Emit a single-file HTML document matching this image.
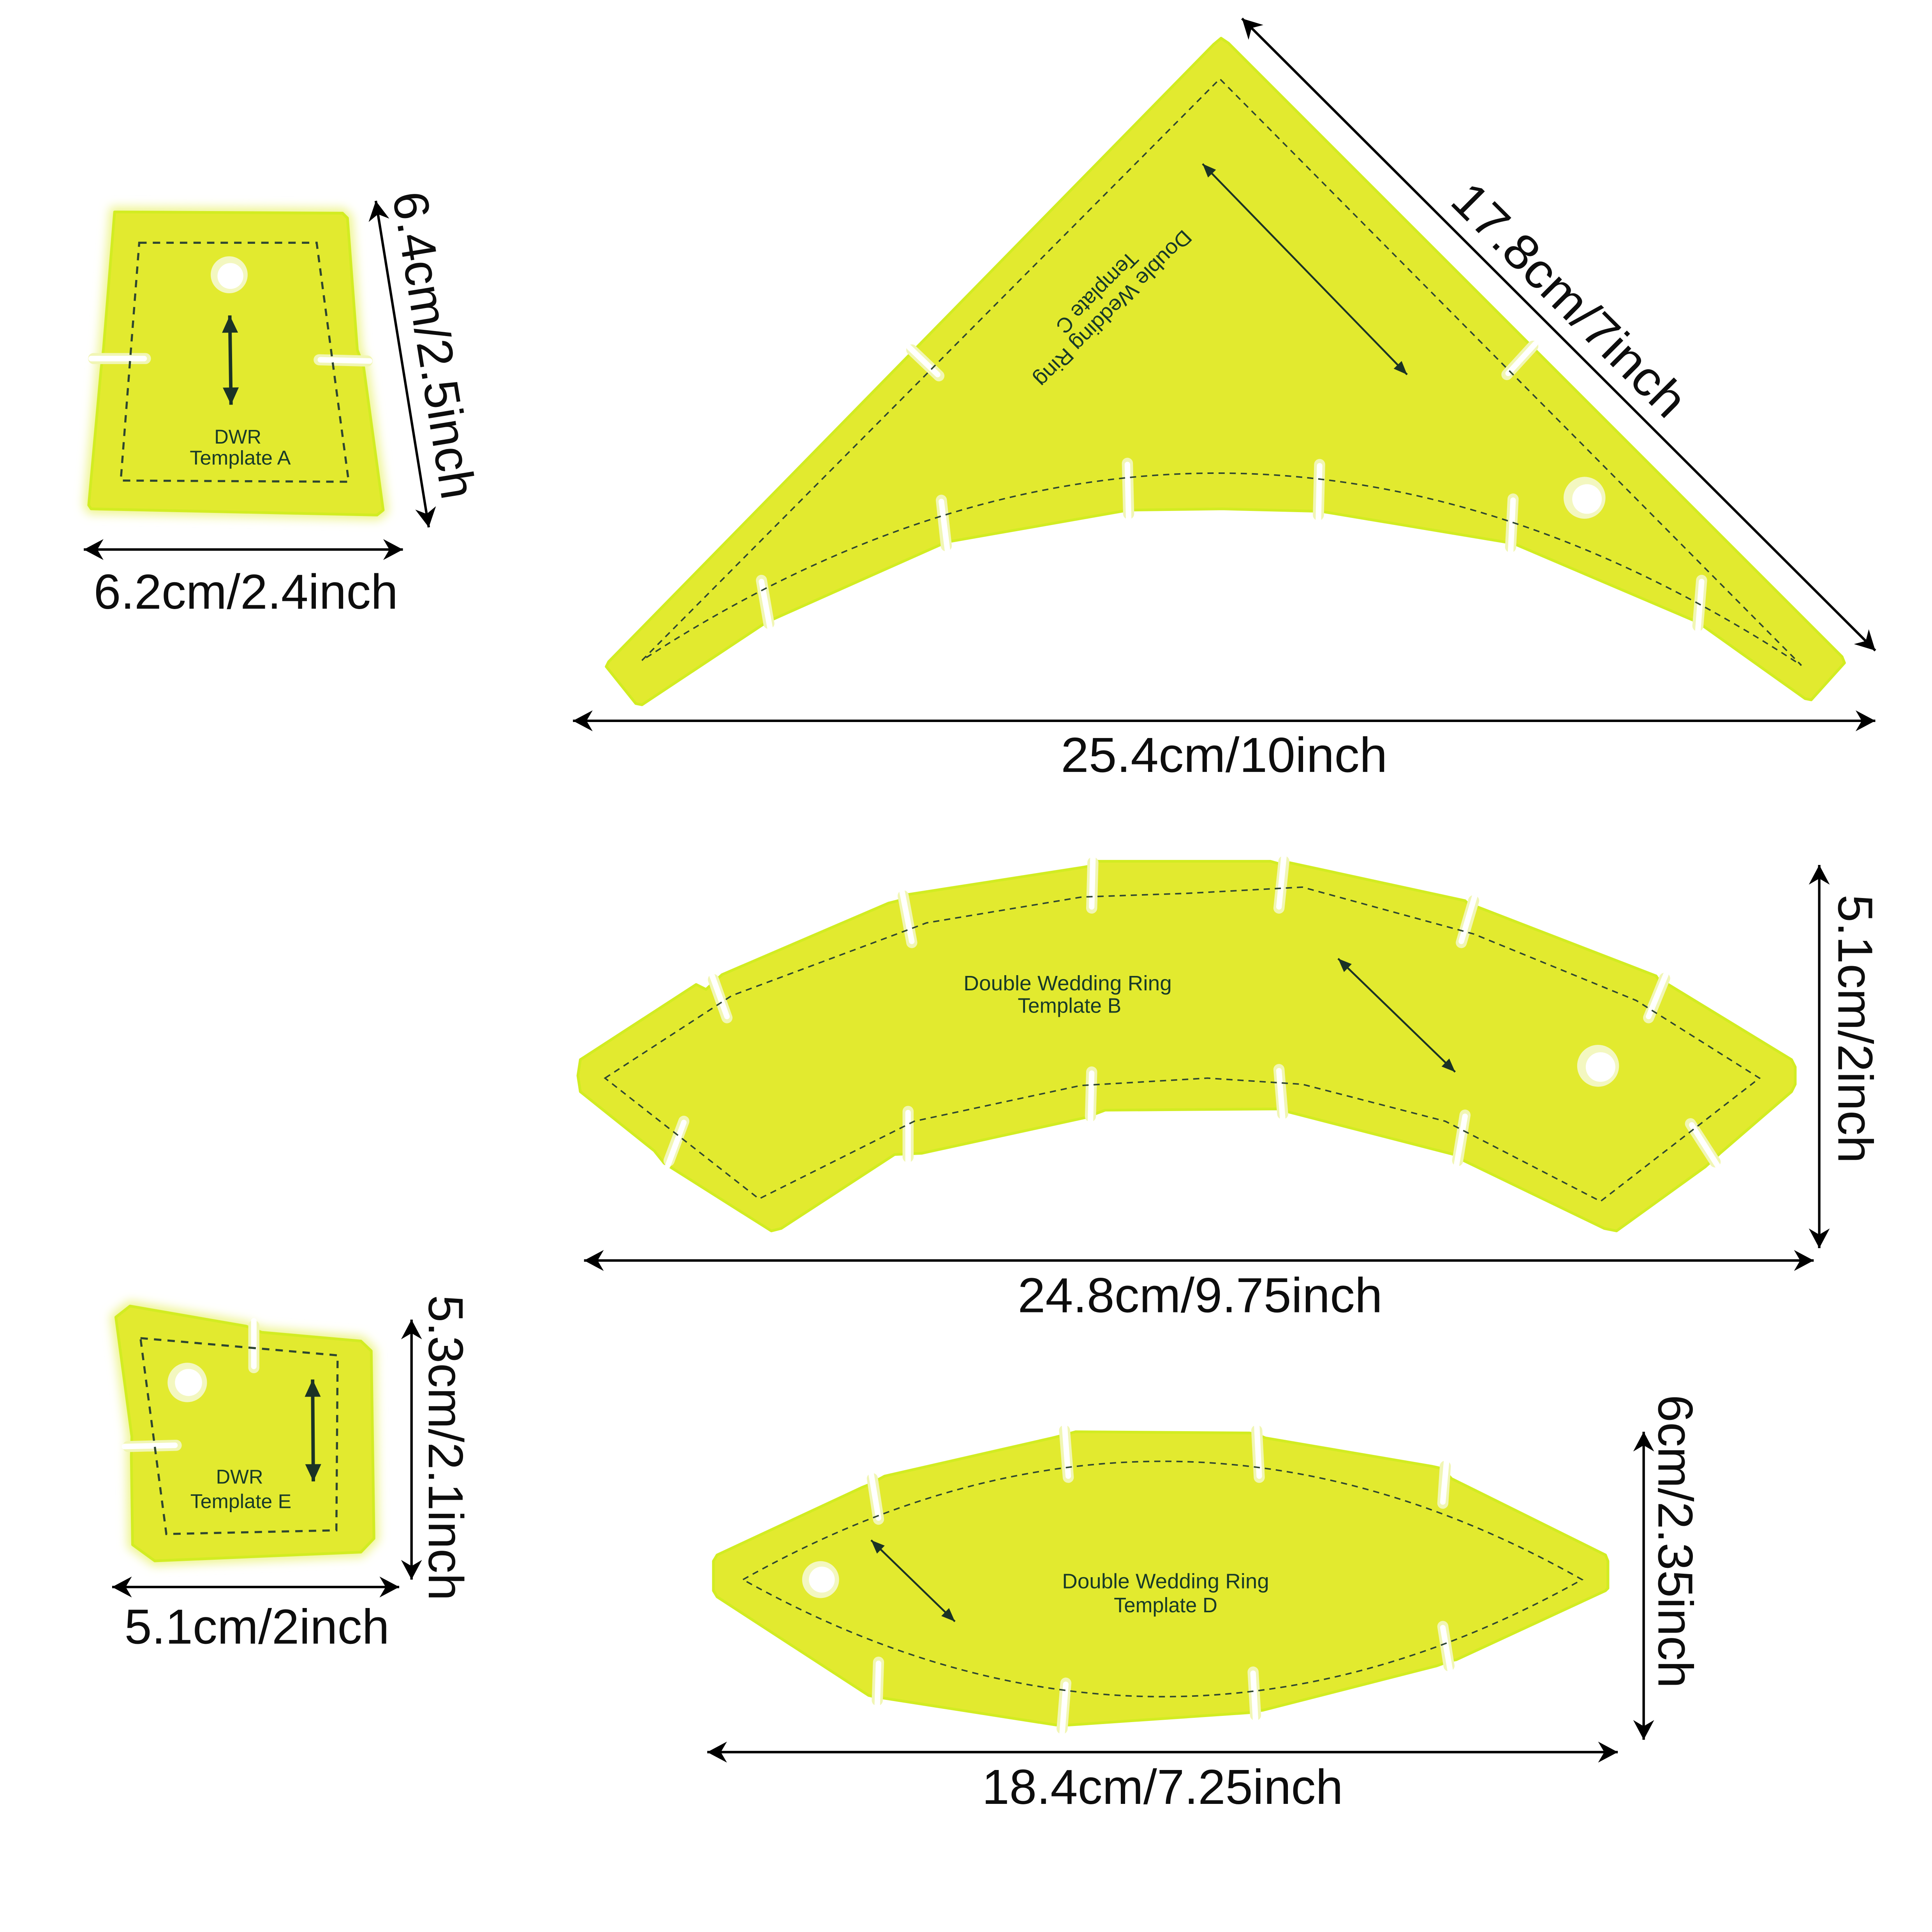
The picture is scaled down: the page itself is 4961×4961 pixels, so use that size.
<!DOCTYPE html>
<html>
<head>
<meta charset="utf-8">
<style>
html,body{margin:0;padding:0;background:#ffffff;}
svg{display:block;}
.dim{font-family:"Liberation Sans",Arial,sans-serif;font-size:40px;fill:#0d0d0d;}
.lbl{font-family:"Liberation Sans",Arial,sans-serif;fill:#183a28;}
.piece{fill:#e2ea2f;stroke:#d2ec22;stroke-width:2.2;stroke-linejoin:round;}
.dash{fill:none;stroke:#2e4630;stroke-width:1.2;stroke-dasharray:5 4;}
.dashT{fill:none;stroke:#2e4630;stroke-width:1.7;stroke-dasharray:6 5;}
.slitR{fill:none;stroke:#f1f6b4;stroke-width:9;stroke-linecap:round;}
.slitW{fill:none;stroke:#ffffff;stroke-width:4.5;stroke-linecap:round;}
.dl{stroke:#000;stroke-width:2;}
.gl{stroke:#1b3325;stroke-width:1.5;}
.glT{stroke:#1b3325;stroke-width:2.8;}
</style>
</head>
<body>
<svg xmlns="http://www.w3.org/2000/svg" width="4961" height="4961" viewBox="0 0 1568 1568">
<defs>
  <marker id="de" viewBox="-17 -9 18 18" refX="0" refY="0" markerWidth="18" markerHeight="18" markerUnits="userSpaceOnUse" orient="auto">
    <path d="M0,0 L-16,-8.5 L-11,0 L-16,8.5 Z" fill="#000"/>
  </marker>
  <marker id="ds" viewBox="-1 -9 18 18" refX="0" refY="0" markerWidth="18" markerHeight="18" markerUnits="userSpaceOnUse" orient="auto">
    <path d="M0,0 L16,-8.5 L11,0 L16,8.5 Z" fill="#000"/>
  </marker>
  <marker id="ge" viewBox="-12 -6 13 12" refX="0" refY="0" markerWidth="13" markerHeight="12" markerUnits="userSpaceOnUse" orient="auto">
    <path d="M0,0 L-11,-4.5 L-11,4.5 Z" fill="#1b3325"/>
  </marker>
  <marker id="gs" viewBox="-1 -6 13 12" refX="0" refY="0" markerWidth="13" markerHeight="12" markerUnits="userSpaceOnUse" orient="auto">
    <path d="M0,0 L11,-4.5 L11,4.5 Z" fill="#1b3325"/>
  </marker>
  <marker id="gte" viewBox="-15 -8 16 16" refX="0" refY="0" markerWidth="16" markerHeight="16" markerUnits="userSpaceOnUse" orient="auto">
    <path d="M0,0 L-14,-6.5 L-14,6.5 Z" fill="#1b3325"/>
  </marker>
  <marker id="gts" viewBox="-1 -8 16 16" refX="0" refY="0" markerWidth="16" markerHeight="16" markerUnits="userSpaceOnUse" orient="auto">
    <path d="M0,0 L14,-6.5 L14,6.5 Z" fill="#1b3325"/>
  </marker>
  <filter id="glow" x="-20%" y="-20%" width="140%" height="140%">
    <feGaussianBlur stdDeviation="4"/>
  </filter>
</defs>

<rect x="0" y="0" width="1568" height="1568" fill="#ffffff"/>

<!-- ================= TEMPLATE A ================= -->
<polygon points="93,172 278,173 282,177 290,284 295,297 311,414 306,418 74,413 72,410 82,300 84,283" fill="#eef48c" stroke="#eef48c" stroke-width="8" filter="url(#glow)"/>
<polygon class="piece" points="93,172 278,173 282,177 290,284 295,297 311,414 306,418 74,413 72,410 82,300 84,283"/>
<path class="slitR" d="M76,291 L118,291"/>
<path class="slitW" d="M74,291 L117,291"/>
<path class="slitR" d="M298,293 L259,292"/>
<path class="slitW" d="M300,293 L260,292"/>
<path class="dashT" d="M113,197 L257,197 L283,391 L98,390 Z"/>
<circle cx="186" cy="223" r="15" fill="#f3f7c0"/>
<circle cx="187" cy="224" r="10.5" fill="#ffffff"/>
<line class="glT" x1="186.5" y1="256" x2="187.5" y2="328.5" marker-start="url(#gts)" marker-end="url(#gte)"/>
<text class="lbl" x="193" y="360" font-size="16" text-anchor="middle">DWR</text>
<text class="lbl" x="154" y="377" font-size="16" textLength="82" lengthAdjust="spacingAndGlyphs">Template A</text>

<line class="dl" x1="68" y1="446" x2="327" y2="446" marker-start="url(#ds)" marker-end="url(#de)"/>
<text class="dim" x="76" y="494" textLength="247" lengthAdjust="spacingAndGlyphs">6.2cm/2.4inch</text>
<line class="dl" x1="305" y1="163" x2="348" y2="428" marker-start="url(#ds)" marker-end="url(#de)"/>
<g transform="translate(338.7,282.3) rotate(80.8)">
  <text class="dim" x="-126" y="0" textLength="252" lengthAdjust="spacingAndGlyphs">6.4cm/2.5inch</text>
</g>

<!-- ================= TEMPLATE C ================= -->
<path class="piece" d="M985,36 L991,31 L997,35 L1495,533 L1497,538 L1470,568 L1465,567 L1378,505 L1228,441 L1072,415 L992,413 L916,414 L768,440 L622,505 L521,572 L516,571 L492,541 L494,537 Z"/>
<!-- slits C -->
<path class="slitR" d="M740,284 L762,305"/><path class="slitW" d="M738,282 L761,304"/>
<path class="slitR" d="M1244,281 L1223,304"/><path class="slitW" d="M1246,279 L1224,303"/>
<path class="slitR" d="M624,506 L618,471"/><path class="slitW" d="M625,510 L618,472"/>
<path class="slitR" d="M768,443 L764,406"/><path class="slitW" d="M769,447 L764,407"/>
<path class="slitR" d="M916,417 L915,376"/><path class="slitW" d="M916,421 L915,377"/>
<path class="slitR" d="M1070,418 L1071,377"/><path class="slitW" d="M1070,422 L1071,378"/>
<path class="slitR" d="M1226,444 L1228,405"/><path class="slitW" d="M1226,448 L1228,406"/>
<path class="slitR" d="M1378,508 L1381,471"/><path class="slitW" d="M1378,512 L1381,472"/>
<path class="dash" d="M521,536 L990,64 L1462,540 Q990,230 521,536"/>
<circle cx="1286" cy="404" r="17" fill="#f3f7c0"/>
<circle cx="1288" cy="405" r="12" fill="#ffffff"/>
<line class="gl" x1="976" y1="133" x2="1142" y2="304" marker-start="url(#gs)" marker-end="url(#ge)"/>
<g transform="translate(904,251) rotate(135)">
  <text class="lbl" x="-86" y="6.5" font-size="17" textLength="172" lengthAdjust="spacingAndGlyphs">Double Wedding Ring</text>
  <text class="lbl" x="-43" y="25" font-size="17" textLength="86" lengthAdjust="spacingAndGlyphs">Template C</text>
</g>

<line class="dl" x1="1008" y1="15" x2="1522" y2="528" stroke-width="1.7" marker-start="url(#ds)" marker-end="url(#de)"/>
<g transform="translate(1264,253) rotate(44.94)">
  <text class="dim" x="-125" y="0" textLength="250" lengthAdjust="spacingAndGlyphs">17.8cm/7inch</text>
</g>
<line class="dl" x1="465" y1="585" x2="1522" y2="585" stroke-width="1.8" marker-start="url(#ds)" marker-end="url(#de)"/>
<text class="dim" x="861" y="626.5" textLength="265" lengthAdjust="spacingAndGlyphs">25.4cm/10inch</text>

<!-- ================= TEMPLATE B ================= -->
<path class="piece" d="M471,860 L565,799 L573,803 L586,791 L721,733 L729,731 L737,726 L878,704 L884,703 L890,699 L1031,699 L1038,701 L1046,700 L1189,731 L1191,733 L1199,736 L1344,792 L1346,795 L1354,799 L1454,860 L1457,866 L1457,880 L1454,886 L1396,936 L1384,947 L1312,999 L1302,997 L1186,941 L1180,937 L1044,902 L1038,900 L897,901 L881,907 L748,936 L726,937 L634,997 L626,999 L539,944 L531,934 L471,886 L469,873 Z"/>
<!-- slits B -->
<path class="slitR" d="M579,795 L590,826"/><path class="slitW" d="M578,792 L590,825"/>
<path class="slitR" d="M733,727 L740,765"/><path class="slitW" d="M732,723 L740,764"/>
<path class="slitR" d="M887,700 L886,737"/><path class="slitW" d="M887,696 L886,736"/>
<path class="slitR" d="M1042,699 L1038,737"/><path class="slitW" d="M1042,695 L1038,736"/>
<path class="slitR" d="M1196,731 L1186,765"/><path class="slitW" d="M1197,727 L1186,764"/>
<path class="slitR" d="M1351,794 L1338,826"/><path class="slitW" d="M1352,791 L1338,825"/>
<path class="slitR" d="M1392,943 L1372,912"/><path class="slitW" d="M1394,946 L1373,913"/>
<path class="slitR" d="M1183,942 L1189,905"/><path class="slitW" d="M1182,946 L1189,906"/>
<path class="slitR" d="M1041,904 L1038,868"/><path class="slitW" d="M1041,908 L1038,869"/>
<path class="slitR" d="M885,906 L886,870"/><path class="slitW" d="M885,910 L886,871"/>
<path class="slitR" d="M737,939 L737,902"/><path class="slitW" d="M737,943 L737,903"/>
<path class="slitR" d="M543,942 L555,910"/><path class="slitW" d="M542,946 L555,911"/>
<path class="dash" d="M491,875 L594,808 L752,749 L878,728 L964,725 L1057,720 L1196,758 L1328,812 L1428,875 L1299,975 L1173,910 L1057,880 L980,875 L877,881 L742,910 L616,973 Z"/>
<circle cx="1297" cy="865" r="17" fill="#f3f7c0"/>
<circle cx="1299" cy="866" r="12" fill="#ffffff"/>
<line class="gl" x1="1086" y1="778" x2="1181" y2="870" marker-start="url(#gs)" marker-end="url(#ge)"/>
<text class="lbl" x="782" y="803.7" font-size="17" textLength="169" lengthAdjust="spacingAndGlyphs">Double Wedding Ring</text>
<text class="lbl" x="826" y="822" font-size="17" textLength="84" lengthAdjust="spacingAndGlyphs">Template B</text>

<line class="dl" x1="474" y1="1023" x2="1472" y2="1023" marker-start="url(#ds)" marker-end="url(#de)"/>
<text class="dim" x="826" y="1065" textLength="296" lengthAdjust="spacingAndGlyphs">24.8cm/9.75inch</text>
<line class="dl" x1="1476.5" y1="702" x2="1476.5" y2="1013" marker-start="url(#ds)" marker-end="url(#de)"/>
<g transform="translate(1492,835) rotate(90)">
  <text class="dim" x="-109" y="0" textLength="218" lengthAdjust="spacingAndGlyphs">5.1cm/2inch</text>
</g>

<!-- ================= TEMPLATE E ================= -->
<polygon points="94,1069 105.5,1060 199.7,1076.3 212.4,1081.3 292.9,1088.4 301.3,1096.4 303.5,1248.6 292.9,1259.7 125.6,1266.8 107.6,1253.7 106.6,1182 107,1166" fill="#eef48c" stroke="#eef48c" stroke-width="8" filter="url(#glow)"/>
<polygon class="piece" points="94,1069 105.5,1060 199.7,1076.3 212.4,1081.3 292.9,1088.4 301.3,1096.4 303.5,1248.6 292.9,1259.7 125.6,1266.8 107.6,1253.7 106.6,1182 107,1166"/>
<path class="slitR" d="M206,1076 L206,1110"/><path class="slitW" d="M206,1072 L206,1109"/>
<path class="slitR" d="M104,1174 L143,1173"/><path class="slitW" d="M101,1174 L142,1173"/>
<path class="dashT" d="M114,1086 L274,1100 L273,1242 L135,1245 Z"/>
<circle cx="152" cy="1122" r="16" fill="#f3f7c0"/>
<circle cx="153" cy="1122" r="11" fill="#ffffff"/>
<line class="glT" x1="253.7" y1="1119.6" x2="254.3" y2="1202.3" marker-start="url(#gts)" marker-end="url(#gte)"/>
<text class="lbl" x="194.4" y="1204" font-size="16" text-anchor="middle">DWR</text>
<text class="lbl" x="154.5" y="1224" font-size="16" textLength="82" lengthAdjust="spacingAndGlyphs">Template E</text>

<line class="dl" x1="91" y1="1288" x2="324" y2="1288" marker-start="url(#ds)" marker-end="url(#de)"/>
<text class="dim" x="101" y="1334" textLength="215" lengthAdjust="spacingAndGlyphs">5.1cm/2inch</text>
<line class="dl" x1="334" y1="1071" x2="334" y2="1282" marker-start="url(#ds)" marker-end="url(#de)"/>
<g transform="translate(348,1175) rotate(90)">
  <text class="dim" x="-124" y="0" textLength="248" lengthAdjust="spacingAndGlyphs">5.3cm/2.1inch</text>
</g>

<!-- ================= TEMPLATE D ================= -->
<path class="piece" d="M579,1267 L582,1262 L700,1207 L705,1205 L718,1198 L854,1167 L862,1165 L873,1162 L1014,1163 L1020,1164 L1027,1167 L1162,1190 L1171,1192 L1178,1200 L1303,1262 L1305,1267 L1305,1289 L1303,1291 L1182,1347 L1177,1348 L1166,1352 L1025,1388 L1017,1389 L1014,1390 L868,1400 L862,1400 L857,1400 L716,1378 L713,1378 L705,1376 L582,1296 L579,1291 Z"/>
<path class="slitR" d="M708,1200 L713,1233"/><path class="slitW" d="M707,1196 L713,1232"/>
<path class="slitR" d="M864,1161 L867,1199"/><path class="slitW" d="M864,1157 L867,1198"/>
<path class="slitR" d="M1020,1161 L1022,1199"/><path class="slitW" d="M1020,1157 L1022,1198"/>
<path class="slitR" d="M1173,1190 L1171,1220"/><path class="slitW" d="M1174,1186 L1171,1219"/>
<path class="slitR" d="M1176,1352 L1171,1320"/><path class="slitW" d="M1177,1356 L1171,1321"/>
<path class="slitR" d="M1019,1392 L1017,1357"/><path class="slitW" d="M1019,1396 L1017,1358"/>
<path class="slitR" d="M862,1403 L865,1366"/><path class="slitW" d="M862,1407 L865,1367"/>
<path class="slitR" d="M712,1380 L713,1349"/><path class="slitW" d="M712,1384 L713,1350"/>
<path class="dash" d="M603,1282 Q944,1090 1284,1282 Q944,1472 603,1282 Z"/>
<circle cx="666" cy="1282" r="15" fill="#f3f7c0"/>
<circle cx="667" cy="1282" r="10.5" fill="#ffffff"/>
<line class="gl" x1="707" y1="1250" x2="775" y2="1316" marker-start="url(#gs)" marker-end="url(#ge)"/>
<text class="lbl" x="862" y="1289" font-size="17" textLength="168" lengthAdjust="spacingAndGlyphs">Double Wedding Ring</text>
<text class="lbl" x="904" y="1308.5" font-size="17" textLength="84" lengthAdjust="spacingAndGlyphs">Template D</text>

<line class="dl" x1="574" y1="1422" x2="1313" y2="1422" marker-start="url(#ds)" marker-end="url(#de)"/>
<text class="dim" x="797" y="1464" textLength="293" lengthAdjust="spacingAndGlyphs">18.4cm/7.25inch</text>
<line class="dl" x1="1334" y1="1162" x2="1334" y2="1412" marker-start="url(#ds)" marker-end="url(#de)"/>
<g transform="translate(1346,1251) rotate(90)">
  <text class="dim" x="-119" y="0" textLength="238" lengthAdjust="spacingAndGlyphs">6cm/2.35inch</text>
</g>
</svg>
</body>
</html>
